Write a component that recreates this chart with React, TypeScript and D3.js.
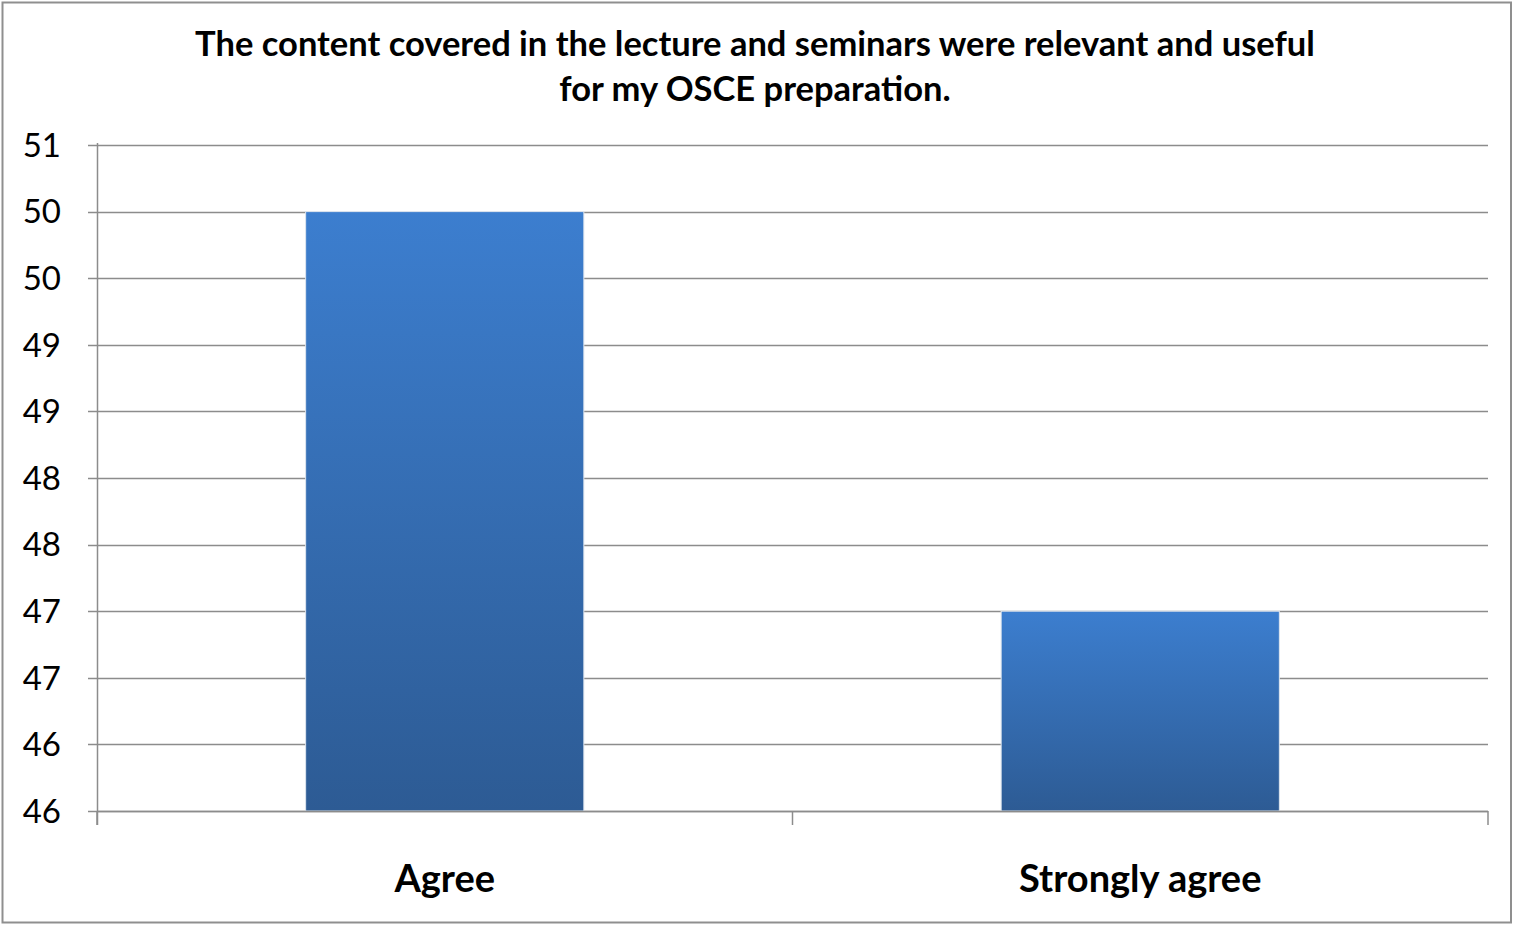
import { useEffect, useRef } from 'react';
import * as d3 from 'd3';

// chart data
const categories = ['Agree', 'Strongly agree'];
const values = [50, 47];
const tickValues = [45.5, 46, 46.5, 47, 47.5, 48, 48.5, 49, 49.5, 50, 50.5];
const tickLabels = ['46', '46', '47', '47', '48', '48', '49', '49', '50', '50', '51'];
const titleLines = [
  'The content covered in the lecture and seminars were relevant and useful',
  'for my OSCE preparation.',
];

const width = 1513;
const height = 925;
const font = 'Lato, "Open Sans", sans-serif';

const App = () => {
  const ref = useRef<SVGSVGElement>(null);

  useEffect(() => {
    document.body.style.margin = '0';
    const svg = d3.select(ref.current);
    svg.selectAll('*').remove();

    const left = 97;
    const right = 1488;
    const top = 145;
    const bottom = 811;

    // outer frame
    svg.append('rect')
      .attr('x', 2.5).attr('y', 2.5)
      .attr('width', width - 4.5).attr('height', height - 5)
      .attr('fill', '#fff').attr('stroke', '#8f8f8f').attr('stroke-width', 2);

    const defs = svg.append('defs');
    const grad = defs.append('linearGradient')
      .attr('id', 'barGrad').attr('x1', 0).attr('y1', 0).attr('x2', 0).attr('y2', 1);
    grad.append('stop').attr('offset', '0%').attr('stop-color', '#3c7ecf');
    grad.append('stop').attr('offset', '100%').attr('stop-color', '#2d5b94');

    const x = d3.scaleBand<string>()
      .domain(categories)
      .range([left, right])
      .paddingInner(0.6)
      .paddingOuter(0.3);

    const y = d3.scaleLinear()
      .domain([tickValues[0], tickValues[tickValues.length - 1]])
      .range([bottom, top]);

    // gridlines + left ticks
    svg.append('g')
      .selectAll('line')
      .data(tickValues)
      .enter()
      .append('line')
      .attr('x1', left - 9)
      .attr('x2', right)
      .attr('y1', (d) => Math.round(y(d)) + 0.5)
      .attr('y2', (d) => Math.round(y(d)) + 0.5)
      .attr('stroke', '#8c8c8c')
      .attr('stroke-width', 1.5);

    svg.append('g')
      .selectAll('text')
      .data(tickValues)
      .enter()
      .append('text')
      .attr('x', 61)
      .attr('y', (d) => y(d))
      .attr('dy', '0.36em')
      .attr('text-anchor', 'end')
      .attr('font-family', font)
      .attr('font-size', 33)
      .attr('fill', '#000')
      .text((_d, i) => tickLabels[i]);

    // bars
    svg.append('g')
      .selectAll('rect')
      .data(values)
      .enter()
      .append('rect')
      .attr('x', (_d, i) => x(categories[i]) as number)
      .attr('y', (d) => y(d))
      .attr('width', x.bandwidth())
      .attr('height', (d) => bottom - y(d))
      .attr('fill', 'url(#barGrad)')
      .attr('stroke', '#dfe6ef')
      .attr('stroke-width', 1);

    // axes lines
    svg.append('line')
      .attr('x1', left + 0.5).attr('x2', left + 0.5)
      .attr('y1', top - 2).attr('y2', bottom + 14)
      .attr('stroke', '#8c8c8c').attr('stroke-width', 1.5);
    svg.append('line')
      .attr('x1', left).attr('x2', right)
      .attr('y1', bottom + 0.5).attr('y2', bottom + 0.5)
      .attr('stroke', '#8c8c8c').attr('stroke-width', 1.5);

    const step = (right - left) / categories.length;
    const catTicks = d3.range(categories.length + 1).map((i) => left + i * step);
    svg.append('g')
      .selectAll('line')
      .data(catTicks)
      .enter()
      .append('line')
      .attr('x1', (d) => d)
      .attr('x2', (d) => d)
      .attr('y1', bottom)
      .attr('y2', bottom + 14)
      .attr('stroke', '#8c8c8c')
      .attr('stroke-width', 1.5);

    svg.append('g')
      .selectAll('text')
      .data(categories)
      .enter()
      .append('text')
      .attr('x', (d) => (x(d) as number) + x.bandwidth() / 2)
      .attr('y', 892)
      .attr('text-anchor', 'middle')
      .attr('font-family', font)
      .attr('font-weight', 'bold')
      .attr('font-size', 38)
      .attr('fill', '#000')
      .text((d) => d);

    svg.append('g')
      .selectAll('text')
      .data(titleLines)
      .enter()
      .append('text')
      .attr('x', 755)
      .attr('y', (_d, i) => 56 + i * 45)
      .attr('text-anchor', 'middle')
      .attr('font-family', font)
      .attr('font-weight', 'bold')
      .attr('font-size', 34.5)
      .attr('fill', '#000')
      .text((d) => d);
  }, []);

  return <svg ref={ref} width={width} height={height} style={{ display: 'block' }} />;
};

export default App;
